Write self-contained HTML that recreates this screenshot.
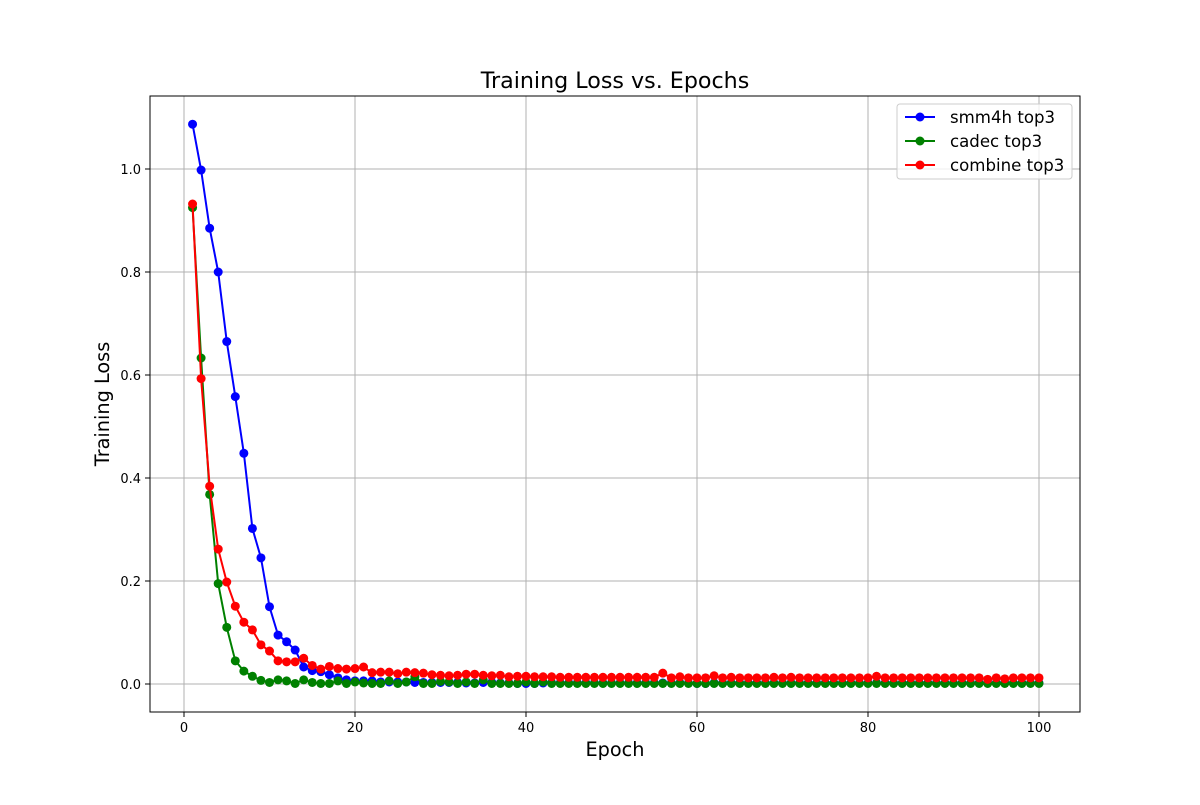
<!DOCTYPE html>
<html><head><meta charset="utf-8"><style>
body{margin:0;background:#fff;font-family:"Liberation Sans","DejaVu Sans",sans-serif}
svg text{font-family:"DejaVu Sans","Liberation Sans",sans-serif}
</style></head><body>
<svg id="chart" width="1200" height="800" xmlns="http://www.w3.org/2000/svg">
<rect width="1200" height="800" fill="#fff"/>
<g id="grid"></g>
<g id="series"></g>
<rect x="150" y="96" width="930" height="616" fill="none" stroke="#000" stroke-width="1"/>
<g id="ticks"></g>
<text x="615" y="88" font-size="22.2" text-anchor="middle">Training Loss vs. Epochs</text>
<text x="615" y="756" font-size="19.3" text-anchor="middle">Epoch</text>
<text x="109" y="404" font-size="19.3" text-anchor="middle" transform="rotate(-90 109 404)">Training Loss</text>
<g>
<rect x="897" y="104" width="175" height="75" rx="3" fill="#fff" fill-opacity="0.8" stroke="#ccc"/>
<g><line x1="905" y1="117" x2="935" y2="117" stroke="#0000ff" stroke-width="2"/><circle cx="920" cy="117" r="4.5" fill="#0000ff"/><text x="950" y="123" font-size="16.6">smm4h top3</text></g>
<g><line x1="905" y1="141" x2="935" y2="141" stroke="#008000" stroke-width="2"/><circle cx="920" cy="141" r="4.5" fill="#008000"/><text x="950" y="147" font-size="16.6">cadec top3</text></g>
<g><line x1="905" y1="165" x2="935" y2="165" stroke="#ff0000" stroke-width="2"/><circle cx="920" cy="165" r="4.5" fill="#ff0000"/><text x="950" y="171" font-size="16.6">combine top3</text></g>
</g>
</svg>
<script>
const xTicks=[0,20,40,60,80,100];
const yTicks=[0.0,0.2,0.4,0.6,0.8,1.0];
const smm4h=[1.087,0.998,0.885,0.800,0.665,0.558,0.448,0.302,0.245,0.150,0.095,0.082,0.066,0.033,0.026,0.024,0.018,0.012,0.008,0.006,0.006,0.006,0.004,0.004,0.004,0.004,0.003,0.003,0.003,0.003,0.003,0.003,0.002,0.002,0.003,0.003,0.002,0.002,0.001,0.001,0.001,0.002,0.002,0.002,0.002,0.002,0.002,0.002,0.002,0.002,0.002,0.002,0.002,0.002,0.002,0.002,0.002,0.002,0.002,0.001,0.001,0.002,0.002,0.002,0.002,0.002,0.002,0.002,0.002,0.002,0.002,0.002,0.002,0.002,0.002,0.002,0.002,0.002,0.002,0.002,0.002,0.002,0.002,0.002,0.002,0.002,0.002,0.002,0.002,0.002,0.002,0.002,0.002,0.002,0.002,0.002,0.002,0.002,0.002,0.002];
const cadec=[0.925,0.633,0.368,0.195,0.110,0.045,0.025,0.015,0.007,0.003,0.008,0.006,0.001,0.008,0.003,0.001,0.001,0.006,0.001,0.004,0.002,0.001,0.001,0.006,0.001,0.004,0.014,0.001,0.001,0.005,0.004,0.001,0.004,0.001,0.008,0.001,0.001,0.001,0.001,0.004,0.001,0.004,0.001,0.001,0.001,0.001,0.001,0.001,0.001,0.001,0.001,0.001,0.001,0.001,0.001,0.001,0.001,0.001,0.001,0.001,0.001,0.001,0.001,0.001,0.001,0.001,0.001,0.001,0.001,0.001,0.001,0.001,0.001,0.001,0.001,0.001,0.001,0.001,0.001,0.001,0.001,0.001,0.001,0.001,0.001,0.001,0.001,0.001,0.001,0.001,0.001,0.001,0.001,0.001,0.001,0.001,0.001,0.001,0.001,0.001];
const combine=[0.932,0.593,0.384,0.262,0.198,0.151,0.120,0.105,0.076,0.064,0.045,0.043,0.043,0.050,0.036,0.029,0.034,0.030,0.029,0.030,0.033,0.022,0.023,0.023,0.020,0.023,0.022,0.021,0.018,0.017,0.016,0.017,0.019,0.019,0.017,0.016,0.017,0.014,0.015,0.015,0.014,0.014,0.014,0.013,0.013,0.013,0.013,0.013,0.013,0.013,0.013,0.013,0.013,0.013,0.013,0.021,0.012,0.014,0.012,0.012,0.012,0.016,0.012,0.013,0.012,0.012,0.012,0.012,0.013,0.012,0.013,0.012,0.012,0.012,0.012,0.012,0.012,0.012,0.012,0.012,0.015,0.012,0.012,0.012,0.012,0.012,0.012,0.012,0.012,0.012,0.012,0.012,0.012,0.009,0.012,0.010,0.012,0.012,0.012,0.012];
const NS='http://www.w3.org/2000/svg';
const X=v=>184+v*(1039-184)/100;
const Y=v=>684-v*515;
function mk(tag,attrs,parent){const e=document.createElementNS(NS,tag);for(const k in attrs)e.setAttribute(k,attrs[k]);parent.appendChild(e);return e;}
const grid=document.getElementById('grid'),ticks=document.getElementById('ticks'),ser=document.getElementById('series');
xTicks.forEach(t=>{
 const g=mk('line',{x1:X(t),x2:X(t),y1:96,y2:712,stroke:'#b0b0b0','stroke-width':1},grid);
 
 
 mk('line',{x1:X(t),x2:X(t),y1:712,y2:717,stroke:'#000'},ticks);
 const l=mk('text',{x:X(t),y:732,'font-size':13,'text-anchor':'middle'},ticks);
 l.textContent=t;
 
 
});
yTicks.forEach(t=>{
 const g=mk('line',{x1:150,x2:1080,y1:Y(t),y2:Y(t),stroke:'#b0b0b0','stroke-width':1},grid);
 
 
 mk('line',{x1:145,x2:150,y1:Y(t),y2:Y(t),stroke:'#000'},ticks);
 const l=mk('text',{x:141,y:Y(t)+5,'font-size':13,'text-anchor':'end'},ticks);
 l.textContent=t.toFixed(1);
 
 
});
[[smm4h,'#0000ff','smm4h'],[cadec,'#008000','cadec'],[combine,'#ff0000','combine']].forEach(([d,c,n])=>{
 const g=mk('g',{},ser);
 
 
 const p=mk('polyline',{points:d.map((v,i)=>X(i+1)+','+Y(v)).join(' '),fill:'none',stroke:c,'stroke-width':2},g);
 
 
 d.forEach((v,i)=>{
  const m=mk('circle',{cx:X(i+1),cy:Y(v),r:4.5,fill:c},g);
  
  
 });
});
</script>
</body></html>
